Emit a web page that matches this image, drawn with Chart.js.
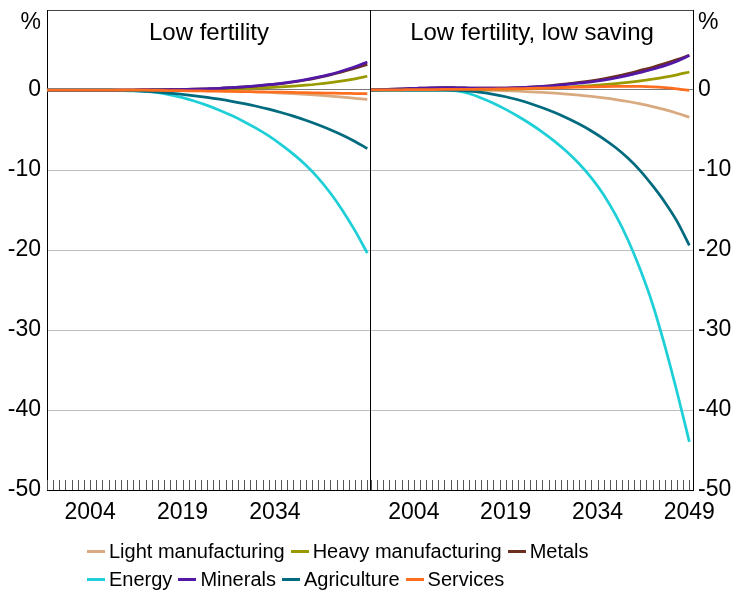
<!DOCTYPE html>
<html>
<head>
<meta charset="utf-8">
<script src="https://cdn.jsdelivr.net/npm/chart.js@4/dist/chart.umd.min.js"></script>
<style>
  html, body { margin: 0; padding: 0; background: #fff; }
  #wrap { position: relative; width: 733px; height: 591px; overflow: hidden; font-family: "Liberation Sans", Arial, sans-serif; }
  #cL { position: absolute; left: 0; top: 0; }
  #cR { position: absolute; left: 371px; top: 0; }
  #legend { position: absolute; left: 87px; top: 538px; font-size: 20px; color: #000; }
  .row { height: 27.6px; line-height: 27.6px; white-space: nowrap; }
  .item { display: inline-block; margin-right: 6px; }
  .sw { display: inline-block; width: 18px; height: 3px; vertical-align: middle; margin-right: 4px; position: relative; top: -1px; }
</style>
</head>
<body>
<div id="wrap">
  <canvas id="cL" width="371" height="540"></canvas>
  <canvas id="cR" width="362" height="540"></canvas>
  <div id="legend"></div>
</div>
<script>
// ---- Data ----
const years = [1997, 1999, 2001, 2003, 2005, 2007, 2009, 2011, 2013, 2015, 2017, 2019, 2021, 2023,
               2025, 2027, 2029, 2031, 2033, 2035, 2037, 2039, 2041, 2043, 2045, 2047, 2049];
const seriesNames = ["Light manufacturing", "Heavy manufacturing", "Metals", "Energy", "Minerals", "Agriculture", "Services"];
const seriesColors = ["#d9aa80", "#9a9a00", "#6b2e1f", "#1fcfd8", "#5318a8", "#006b7e", "#ff6e1e"];
const panelTitles = ["Low fertility", "Low fertility, low saving"];
const yTickValues = [-50, -40, -30, -20, -10, 0];
const xLabelYears = [2004, 2019, 2034, 2049];

// Low fertility
const lfLight    = [0, 0, 0, 0, 0, 0, 0, 0, -0.01, -0.01, -0.02, -0.03, -0.05, -0.08, -0.11, -0.15, -0.2, -0.25, -0.31, -0.38, -0.46, -0.55, -0.65, -0.77, -0.9, -1.04, -1.18];
const lfHeavy    = [0, 0, 0, 0, 0, 0, 0, 0, 0, 0.01, 0.02, 0.03, 0.05, 0.07, 0.1, 0.14, 0.19, 0.24, 0.3, 0.38, 0.48, 0.6, 0.75, 0.93, 1.14, 1.4, 1.72];
const lfMetals   = [0, 0, 0, 0, 0, 0, 0, 0, 0.01, 0.02, 0.04, 0.07, 0.1, 0.15, 0.21, 0.29, 0.39, 0.5, 0.63, 0.79, 1.0, 1.25, 1.55, 1.88, 2.3, 2.72, 3.2];
const lfEnergy   = [0, 0, 0, 0, -0.01, -0.03, -0.06, -0.1, -0.18, -0.34, -0.6, -0.96, -1.4, -1.92, -2.52, -3.2, -3.96, -4.8, -5.74, -6.82, -8.02, -9.38, -10.98, -12.88, -15.08, -17.58, -20.38];
const lfMinerals = [0, 0, 0, 0, 0, 0, 0, 0, 0.01, 0.02, 0.04, 0.07, 0.1, 0.15, 0.21, 0.3, 0.4, 0.52, 0.66, 0.83, 1.05, 1.3, 1.6, 1.95, 2.4, 2.9, 3.5];
const lfAgri     = [0, 0, 0, 0, 0, -0.01, -0.04, -0.09, -0.17, -0.28, -0.41, -0.55, -0.72, -0.92, -1.15, -1.41, -1.7, -2.03, -2.4, -2.81, -3.27, -3.78, -4.34, -4.96, -5.65, -6.43, -7.31];
const lfServices = [0, 0, 0, 0, 0, 0, 0, -0.01, -0.03, -0.05, -0.07, -0.09, -0.11, -0.13, -0.15, -0.18, -0.2, -0.23, -0.25, -0.28, -0.31, -0.34, -0.36, -0.39, -0.42, -0.44, -0.46];

// Low fertility, low saving
const lsLight    = [0, 0, 0, 0, 0, 0, 0, 0, 0, -0.02, -0.05, -0.1, -0.15, -0.22, -0.3, -0.4, -0.52, -0.65, -0.8, -0.98, -1.19, -1.44, -1.73, -2.07, -2.46, -2.9, -3.4];
const lsHeavy    = [0, 0.03, 0.05, 0.08, 0.1, 0.1, 0.1, 0.08, 0.07, 0.08, 0.1, 0.12, 0.15, 0.2, 0.25, 0.3, 0.37, 0.45, 0.55, 0.67, 0.8, 0.95, 1.13, 1.35, 1.6, 1.9, 2.25];
const lsMetals   = [0, 0.05, 0.1, 0.17, 0.24, 0.28, 0.3, 0.28, 0.25, 0.22, 0.22, 0.25, 0.3, 0.36, 0.45, 0.6, 0.76, 0.94, 1.15, 1.4, 1.7, 2.05, 2.45, 2.85, 3.3, 3.8, 4.35];
const lsEnergy   = [0, 0, 0, 0, 0, 0, 0, -0.1, -0.44, -1.0, -1.66, -2.42, -3.28, -4.22, -5.26, -6.42, -7.72, -9.22, -10.98, -13.08, -15.68, -18.78, -22.48, -26.78, -31.98, -37.78, -43.98];
const lsMinerals = [0, 0.05, 0.1, 0.17, 0.24, 0.28, 0.3, 0.28, 0.25, 0.22, 0.22, 0.25, 0.3, 0.36, 0.45, 0.56, 0.7, 0.85, 1.02, 1.23, 1.5, 1.82, 2.2, 2.6, 3.05, 3.6, 4.3];
const lsAgri     = [0, 0, 0, 0, 0, 0, 0, -0.04, -0.14, -0.3, -0.54, -0.84, -1.22, -1.68, -2.22, -2.82, -3.5, -4.26, -5.12, -6.1, -7.22, -8.54, -10.1, -11.96, -14.02, -16.42, -19.42];
const lsServices = [0, 0.01, 0.02, 0.04, 0.05, 0.06, 0.07, 0.08, 0.09, 0.1, 0.12, 0.14, 0.17, 0.2, 0.24, 0.28, 0.32, 0.36, 0.4, 0.43, 0.45, 0.46, 0.45, 0.4, 0.3, 0.15, -0.05];

const lfSeries = [lfLight, lfHeavy, lfMetals, lfEnergy, lfMinerals, lfAgri, lfServices];
const lsSeries = [lsLight, lsHeavy, lsMetals, lsEnergy, lsMinerals, lsAgri, lsServices];

// ---- Chart setup ----
const FONT = '"Liberation Sans", Arial, sans-serif';
Chart.defaults.font.family = FONT;
Chart.defaults.color = '#000';

const tickYears = [];
for (let y = 1997; y <= 2049; y++) tickYears.push(y);

const decor = {
  id: 'decor',
  afterDraw(chart, args, opts) {
    const { ctx, chartArea: a, scales } = chart;
    ctx.save();
    // minor year ticks pointing inward
    ctx.strokeStyle = '#555';
    ctx.lineWidth = 1;
    ctx.beginPath();
    for (const yr of tickYears) {
      const x = Math.round(scales.x.getPixelForValue(yr)) + 0.5;
      ctx.moveTo(x, a.bottom);
      ctx.lineTo(x, a.bottom - 10);
    }
    ctx.stroke();
    // divider between panels
    ctx.strokeStyle = '#000';
    ctx.beginPath();
    if (opts.side === 'left') {
      ctx.moveTo(a.right - 0.5, a.top); ctx.lineTo(a.right - 0.5, a.bottom);
    }
    ctx.stroke();
    // panel title
    ctx.fillStyle = '#000';
    ctx.font = '24px ' + FONT;
    ctx.textAlign = 'center';
    ctx.textBaseline = 'middle';
    ctx.fillText(opts.title, (a.left + a.right) / 2, a.top + 23);
    // unit label
    ctx.font = '23px ' + FONT;
    if (opts.side === 'left') {
      ctx.textAlign = 'right';
      ctx.fillText('%', a.left - 6, 23);
    } else {
      ctx.textAlign = 'left';
      ctx.fillText('%', a.right + 5, 23);
    }
    ctx.restore();
  }
};

function makeChart(canvasId, series, side, title) {
  const datasets = series.map((vals, i) => ({
    label: seriesNames[i],
    data: vals.map((v, k) => ({ x: years[k], y: v })),
    borderColor: seriesColors[i],
    backgroundColor: seriesColors[i],
    borderWidth: 2.75,
    pointRadius: 0,
    cubicInterpolationMode: 'monotone',
    order: -i
  }));
  return new Chart(document.getElementById(canvasId), {
    type: 'line',
    data: { datasets },
    options: {
      responsive: false,
      animation: false,
      layout: { padding: { top: 10, left: 0, right: 0, bottom: 0 } },
      plugins: {
        legend: { display: false },
        tooltip: { enabled: false },
        decor: { side, title }
      },
      scales: {
        x: {
          type: 'linear',
          min: 1997,
          max: 2049.6,
          afterBuildTicks: (s) => { s.ticks = tickYears.map(v => ({ value: v })); },
          afterFit: (s) => { s.height = 50; s.paddingLeft = 0; s.paddingRight = 0; },
          grid: { display: false, drawTicks: false },
          border: { display: true, color: '#000', width: 1 },
          ticks: {
            autoSkip: false,
            maxRotation: 0,
            padding: 9,
            font: { size: 23 },
            color: '#000',
            callback: (v) => {
              if (side === 'left' && v === 2049) return '';
              return xLabelYears.includes(v) ? String(v) : '';
            }
          }
        },
        y: {
          position: side,
          min: -50,
          max: 10,
          afterBuildTicks: (s) => { s.ticks = yTickValues.concat([10]).map(v => ({ value: v })); },
          afterFit: (s) => { s.width = side === 'left' ? 47 : 40; s.paddingTop = 0; s.paddingBottom = 0; },
          grid: {
            drawTicks: false,
            lineWidth: 1,
            color: (c) => {
              const v = c.tick && c.tick.value;
              if (v === 0) return '#7a7a7a';
              if (v === 10) return '#444';
              if (v === -50) return '#000';
              return '#bdbdbd';
            }
          },
          border: { display: true, color: '#000', width: 1 },
          ticks: {
            padding: side === 'left' ? 6 : 5,
            font: { size: 23 },
            color: '#000',
            callback: (v) => (v === 10 ? '' : String(v))
          }
        }
      }
    },
    plugins: [decor]
  });
}

makeChart('cL', lfSeries, 'left', panelTitles[0]);
makeChart('cR', lsSeries, 'right', panelTitles[1]);

// ---- Legend (built from the series arrays) ----
const legend = document.getElementById('legend');
const rows = [[0, 1, 2], [3, 4, 5, 6]];
rows.forEach(r => {
  const row = document.createElement('div');
  row.className = 'row';
  r.forEach(i => {
    const it = document.createElement('span');
    it.className = 'item';
    const sw = document.createElement('span');
    sw.className = 'sw';
    sw.style.background = seriesColors[i];
    it.appendChild(sw);
    it.appendChild(document.createTextNode(seriesNames[i]));
    row.appendChild(it);
  });
  legend.appendChild(row);
});
</script>
</body>
</html>
